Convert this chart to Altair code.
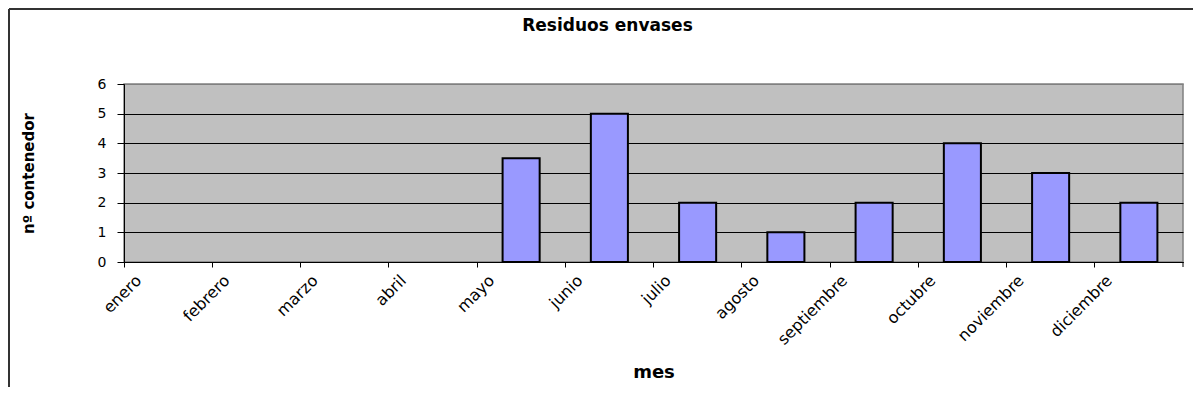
import altair as alt
import pandas as pd

# ---- data ----
months = ["enero", "febrero", "marzo", "abril", "mayo", "junio", "julio",
          "agosto", "septiembre", "octubre", "noviembre", "diciembre"]
values = [None, None, None, None, 3.5, 5, 2, 1, 2, 4, 3, 2]
y_ticks = [0, 1, 2, 3, 4, 5, 6]

chart_title = "Residuos envases"
x_title = "mes"
y_title = "nº contenedor"

df = pd.DataFrame({"mes": months, "valor": values})

W, H = 1059, 178
PAD = {"left": 116, "top": 76, "right": 10, "bottom": 125}
FONT = "DejaVu Sans"

bars = alt.Chart(df).mark_bar(
    width=alt.RelativeBandSize(0.42),
    fill="#9999FF",
    stroke="#000000",
    strokeWidth=2,
).encode(
    x=alt.X(
        "mes:N",
        sort=months,
        scale=alt.Scale(domain=months, paddingInner=0, paddingOuter=0),
        axis=alt.Axis(
            bandPosition=0,
            grid=False,
            domainColor="#000000",
            domainWidth=1,
            tickColor="#000000",
            tickSize=5,
            labelAngle=315,
            labelAlign="right",
            labelBaseline="top",
            labelOffset=-35,
            labelPadding=5,
            labelOverlap=False,
            labelFont=FONT,
            labelFontSize=16,
            labelColor="#000000",
            title=x_title,
            titleFont=FONT,
            titleFontSize=18,
            titleFontWeight="bold",
            titleColor="#000000",
            titleX=W / 2,
            titleY=110,
            titleAlign="center",
            titleBaseline="middle",
        ),
    ),
    y=alt.Y(
        "valor:Q",
        scale=alt.Scale(domain=[0, 6], nice=False),
        axis=alt.Axis(
            values=y_ticks,
            grid=True,
            gridColor={"condition": {"test": "datum.value === 6", "value": "#808080"},
                       "value": "#000000"},
            gridWidth=1,
            domainColor="#000000",
            tickColor="#000000",
            tickSize=7,
            labelPadding=11,
            labelFont=FONT,
            labelFontSize=14,
            labelColor="#000000",
            title=y_title,
            titleFont=FONT,
            titleFontSize=15,
            titleFontWeight="bold",
            titleColor="#000000",
            titleAngle=270,
            titleX=-96,
            titleY=H / 2,
            titleAlign="center",
            titleBaseline="middle",
        ),
    ),
)

frame_src = pd.DataFrame({"k": [0]})
frame_top = alt.Chart(frame_src).mark_rule(color="#333333", strokeWidth=2).encode(
    x=alt.value(-115), x2=alt.value(W + PAD["right"]), y=alt.value(-75)
)
frame_left = alt.Chart(frame_src).mark_rule(color="#333333", strokeWidth=2).encode(
    x=alt.value(-115), y=alt.value(-75), y2=alt.value(H + PAD["bottom"])
)
# closing tick at the right end of the category axis
end_tick = alt.Chart(frame_src).mark_rule(color="#000000", strokeWidth=1).encode(
    x=alt.value(W), y=alt.value(H), y2=alt.value(H + 5)
)

chart = alt.layer(bars, frame_top, frame_left, end_tick).properties(
    width=W,
    height=H,
    padding=PAD,
    autosize="none",
    background="#FFFFFF",
    title=alt.TitleParams(
        chart_title,
        font=FONT,
        fontSize=17,
        fontWeight="bold",
        color="#000000",
        anchor="middle",
        dx=-46,
        dy=41,
        offset=14,
    ),
).configure_view(
    fill="#C0C0C0",
    stroke="#808080",
    strokeWidth=1.5,
)

chart.save("out.html", embed_options={"renderer": "svg", "actions": False})
